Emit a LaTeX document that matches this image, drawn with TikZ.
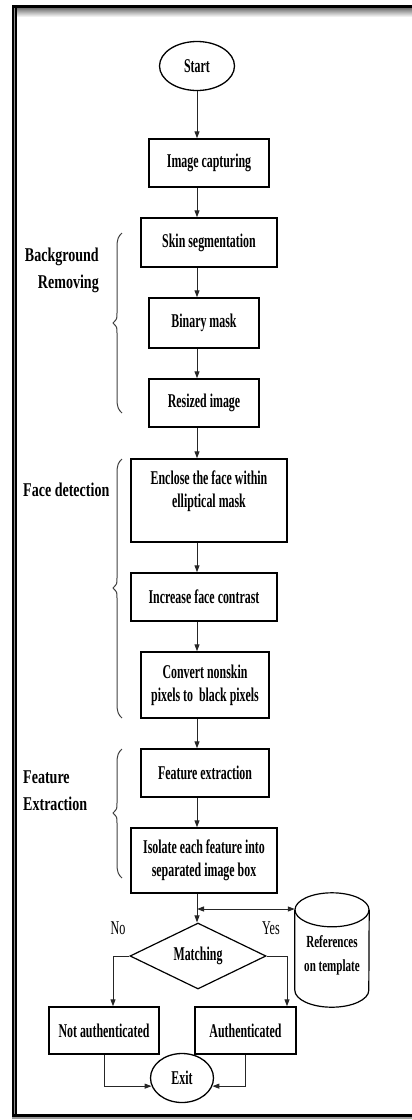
\documentclass[tikz,border=0pt]{standalone}
\usepackage{fontspec}
\setmainfont{Liberation Serif}
\usepackage{graphicx}
\usetikzlibrary{shapes.geometric,arrows.meta,calc}
\newcommand{\hs}[2]{\scalebox{#1}[1]{#2}}
\newcommand{\twoc}[2]{\begin{tabular}{@{}c@{}}#1\\#2\end{tabular}}
\newcommand{\drawbrace}[3]{\draw[brc] (122,#1) .. controls (118.5,#1+3) and (117,#1+6) .. (117,#1+14) -- (117,#2-10) .. controls (117,#2-4) .. (113,#2) .. controls (117,#2+4) .. (117,#2+10) -- (117,#3-14) .. controls (117,#3-6) and (118.5,#3-3) .. (122,#3);}
\tikzset{
  boxtxt/.style={font=\bfseries\fontsize{19.5}{23}\selectfont},
  box/.style={boxtxt, draw, line width=1.5pt, inner sep=0pt},
  oval/.style={boxtxt, ellipse, draw, line width=1.3pt, inner sep=0pt},
  conn/.style={line width=1pt, draw=black!85, -{Triangle[length=7pt,width=5pt]}},
  dconn/.style={line width=1pt, draw=black!85, {Triangle[length=7pt,width=5pt]}-{Triangle[length=7pt,width=5pt]}},
  brc/.style={line width=1pt, draw=black!75},
  side/.style={font=\bfseries\fontsize{19.5}{27}\selectfont, inner sep=0pt},
  lbl/.style={font=\fontsize{19.5}{23}\selectfont, inner sep=0pt},
  cylst/.style={line width=1.2pt, draw=black}
}
\begin{document}
\begin{tikzpicture}[x=1pt,y=-1pt]
\useasboundingbox (0,0) rectangle (412,1120);
% frame
\fill (12,5) rectangle (420,8);
\shade[top color=black!55, bottom color=white] (12,8) rectangle (420,17);
\fill (12,5) rectangle (16.5,1118);
\fill[black!45] (13.8,8) rectangle (14.8,1114);
\fill (12,1114) rectangle (420,1117);
\fill[black!40] (12,1117) rectangle (420,1118.5);

\coordinate (ax) at (197,0);

\node[oval, minimum width=75pt, minimum height=49pt] (st) at (197,66) {\hs{.61}{Start}};
\node[box, minimum width=120pt, minimum height=48pt] (ic) at (209,163) {\hs{.61}{Image capturing}};
\node[box, minimum width=136pt, minimum height=49pt] (ss) at (209,242.5) {\hs{.61}{Skin segmentation}};
\node[box, minimum width=110pt, minimum height=50pt] (bm) at (204,323) {\hs{.61}{Binary mask}};
\node[box, minimum width=110pt, minimum height=48pt] (ri) at (204,403) {\hs{.61}{Resized image}};
\node[box, minimum width=156pt, minimum height=83pt] (en) at (209,500.5) {\raisebox{3.5pt}[0pt][0pt]{\hs{.61}{\twoc{Enclose the face within}{elliptical mask}}}};
\node[box, minimum width=146pt, minimum height=48pt] (ifc) at (204,597) {\hs{.61}{Increase face contrast}};
\node[box, minimum width=128pt, minimum height=66pt] (cv) at (205,685) {\hs{.61}{\twoc{Convert nonskin}{pixels to\ \ black pixels}}};
\node[box, minimum width=128pt, minimum height=48pt] (fe) at (205,773) {\hs{.61}{Feature extraction}};
\node[box, minimum width=146pt, minimum height=65pt] (iso) at (204,860.5) {\hs{.61}{\twoc{Isolate each feature into}{separated image box}}};
\node[boxtxt, diamond, draw, line width=1.2pt, aspect=2, inner sep=0pt, minimum width=136pt, minimum height=66pt] (d) at (198,956) {\hs{.61}{Matching}};
\node[font=\bfseries\fontsize{17}{24}\selectfont, inner sep=0pt, minimum width=74pt, minimum height=114pt] (cyl) at (332,950) {\raisebox{-9pt}[0pt][0pt]{\hs{.65}{\twoc{References}{on template}}}};
\node[box, minimum width=110pt, minimum height=47pt] (na) at (104,1030.5) {\hs{.61}{Not authenticated}};
\node[box, minimum width=101pt, minimum height=47pt] (au) at (245.5,1030.5) {\hs{.61}{Authenticated}};
\node[oval, minimum width=63pt, minimum height=49pt] (ex) at (182,1078) {\hs{.61}{Exit}};

\node[lbl] (no) at (118,928) {\hs{.62}{No}};
\node[lbl] (yes) at (271,928) {\hs{.62}{Yes}};

\node[side, anchor=east] (bg) at (99,270) {\hs{.72}{\begin{tabular}{@{}r@{}}Background\\Removing\end{tabular}}};
\node[side, anchor=west] (fd) at (23,490) {\hs{.72}{Face detection}};
\node[side, anchor=west] (fx) at (23,792) {\hs{.72}{\begin{tabular}{@{}l@{}}Feature\\Extraction\end{tabular}}};

% braces
\drawbrace{233}{323}{413}
\drawbrace{459}{588}{718}
\drawbrace{749}{813}{878}

% cylinder outline
\draw[cylst] ($(cyl.north)+(0,17)$) ellipse [x radius=37pt, y radius=17pt];
\draw[cylst] ($(cyl.north west)+(0,17)$) -- ($(cyl.south west)+(0,-17)$) arc[start angle=180, end angle=360, x radius=37pt, y radius=17pt] -- ($(cyl.north east)+(0,17)$);

% connectors
\draw[conn] (st.south -| ax) -- (ic.north -| ax);
\draw[conn] (ic.south -| ax) -- (ss.north -| ax);
\draw[conn] (ss.south -| ax) -- (bm.north -| ax);
\draw[conn] (bm.south -| ax) -- (ri.north -| ax);
\draw[conn] (ri.south -| ax) -- (en.north -| ax);
\draw[conn] (en.south -| ax) -- (ifc.north -| ax);
\draw[conn] (ifc.south -| ax) -- (cv.north -| ax);
\draw[conn] (cv.south -| ax) -- (fe.north -| ax);
\draw[conn] (fe.south -| ax) -- (iso.north -| ax);
\draw[conn] (iso.south -| ax) -- (d.north -| ax);
\coordinate (j) at (197,909);
\draw[dconn] (j) -- (j -| cyl.west);
\coordinate (nl) at (113,0);
\coordinate (nr) at (287,0);
\draw[conn] (d.west) -| (nl |- na.north);
\draw[conn] (d.east) -| (nr |- au.north);
\draw[conn] (na.south) |- (ex.195);
\draw[conn] (au.south) |- (ex.345);
\end{tikzpicture}
\end{document}
